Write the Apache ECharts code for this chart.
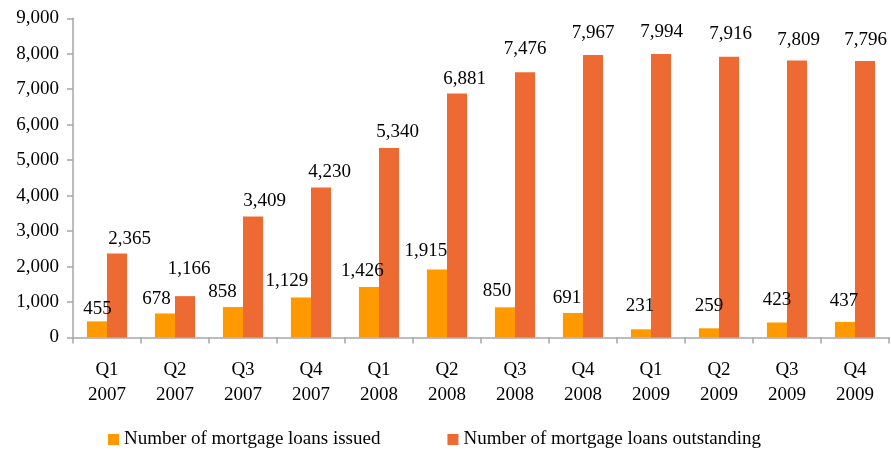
<!DOCTYPE html>
<html>
<head>
<meta charset="utf-8">
<title>Mortgage loans, 2007–2009</title>
<script src="https://cdn.jsdelivr.net/npm/echarts@6/dist/echarts.min.js"></script>
<style>
  html, body { margin: 0; padding: 0; background: #fff; }
  #chart { width: 891px; height: 449px; }
</style>
</head>
<body>
<div id="chart"></div>
<script>
// Quarterly categories
const quarters = ['Q1', 'Q2', 'Q3', 'Q4', 'Q1', 'Q2', 'Q3', 'Q4', 'Q1', 'Q2', 'Q3', 'Q4'];
const years = ['2007', '2007', '2007', '2007', '2008', '2008', '2008', '2008', '2009', '2009', '2009', '2009'];

// Series values
const loansIssued = [455, 678, 858, 1129, 1426, 1915, 850, 691, 231, 259, 423, 437];
const loansOutstanding = [2365, 1166, 3409, 4230, 5340, 6881, 7476, 7967, 7994, 7916, 7809, 7796];

// Value axis ticks
const yTicks = [0, 1000, 2000, 3000, 4000, 5000, 6000, 7000, 8000, 9000];

// Hand-placed nudges [dx, dy] for the value labels
const issuedLabelShift = [[0.5, 2.5], [-8.5, 0.5], [-10.5, -0.5], [-14, -1.5], [-6.5, -1.5], [-11, -4.5],
                          [-8, -1.5], [-6, -0.5], [-1, -8.5], [0, -7.5], [0, -7.5], [-1, -6.5]];
const outstandingLabelShift = [[12.5, -0.5], [4, -12.5], [11.5, -1.5], [8.5, -0.5], [8.5, -1.5], [7.5, 0.5],
                               [0, -8.5], [0, -7.5], [0.5, -7.5], [1.5, -8.5], [1.5, -6.5], [0.5, -6.5]];

const FONT = "'Liberation Serif', 'Times New Roman', serif";
const AXIS_GREY = '#A6A6A6';
const fmt = v => Number(v).toLocaleString('en-US');

const categories = quarters.map((q, i) => q + '\n' + years[i]);

function withLabels(values, shifts) {
  return values.map((v, i) => ({
    value: v,
    label: { offset: shifts[i] }
  }));
}

const chart = echarts.init(document.getElementById('chart'), null, { renderer: 'canvas' });

chart.setOption({
  animation: false,
  backgroundColor: '#ffffff',
  textStyle: { fontFamily: FONT },
  grid: { left: 73, right: 2, top: 18.3, bottom: 111.5, containLabel: false },
  legend: {
    left: 103,
    top: 425,
    icon: 'rect',
    itemWidth: 11,
    itemHeight: 11,
    itemGap: 67,
    textStyle: { fontFamily: FONT, fontSize: 19, color: '#000' },
    data: ['Number of mortgage loans issued', 'Number of mortgage loans outstanding']
  },
  xAxis: {
    type: 'category',
    data: categories,
    axisLine: { lineStyle: { color: AXIS_GREY, width: 1.5 } },
    axisTick: { show: true, alignWithLabel: false, length: 6, lineStyle: { color: AXIS_GREY, width: 1.5 } },
    axisLabel: {
      fontFamily: FONT,
      fontSize: 19,
      color: '#000',
      lineHeight: 25,
      margin: 20,
      interval: 0
    }
  },
  yAxis: {
    type: 'value',
    min: yTicks[0],
    max: yTicks[yTicks.length - 1],
    interval: yTicks[1] - yTicks[0],
    splitLine: { show: false },
    axisLine: { show: true, lineStyle: { color: AXIS_GREY, width: 1.5 } },
    axisTick: { show: true, inside: false, length: 6, lineStyle: { color: AXIS_GREY, width: 1.5 } },
    axisLabel: {
      fontFamily: FONT,
      fontSize: 19,
      color: '#000',
      margin: 14,
      formatter: fmt
    }
  },
  series: [
    {
      name: 'Number of mortgage loans issued',
      type: 'bar',
      barGap: '0%',
      barCategoryGap: '41%',
      itemStyle: { color: '#FF9900' },
      label: {
        show: true,
        position: 'top',
        distance: 5,
        fontFamily: FONT,
        fontSize: 19,
        color: '#000',
        formatter: p => fmt(p.value)
      },
      data: withLabels(loansIssued, issuedLabelShift)
    },
    {
      name: 'Number of mortgage loans outstanding',
      type: 'bar',
      barGap: '0%',
      barCategoryGap: '41%',
      itemStyle: { color: '#ED6B33' },
      label: {
        show: true,
        position: 'top',
        distance: 5,
        fontFamily: FONT,
        fontSize: 19,
        color: '#000',
        formatter: p => fmt(p.value)
      },
      data: withLabels(loansOutstanding, outstandingLabelShift)
    }
  ]
});
</script>
</body>
</html>
